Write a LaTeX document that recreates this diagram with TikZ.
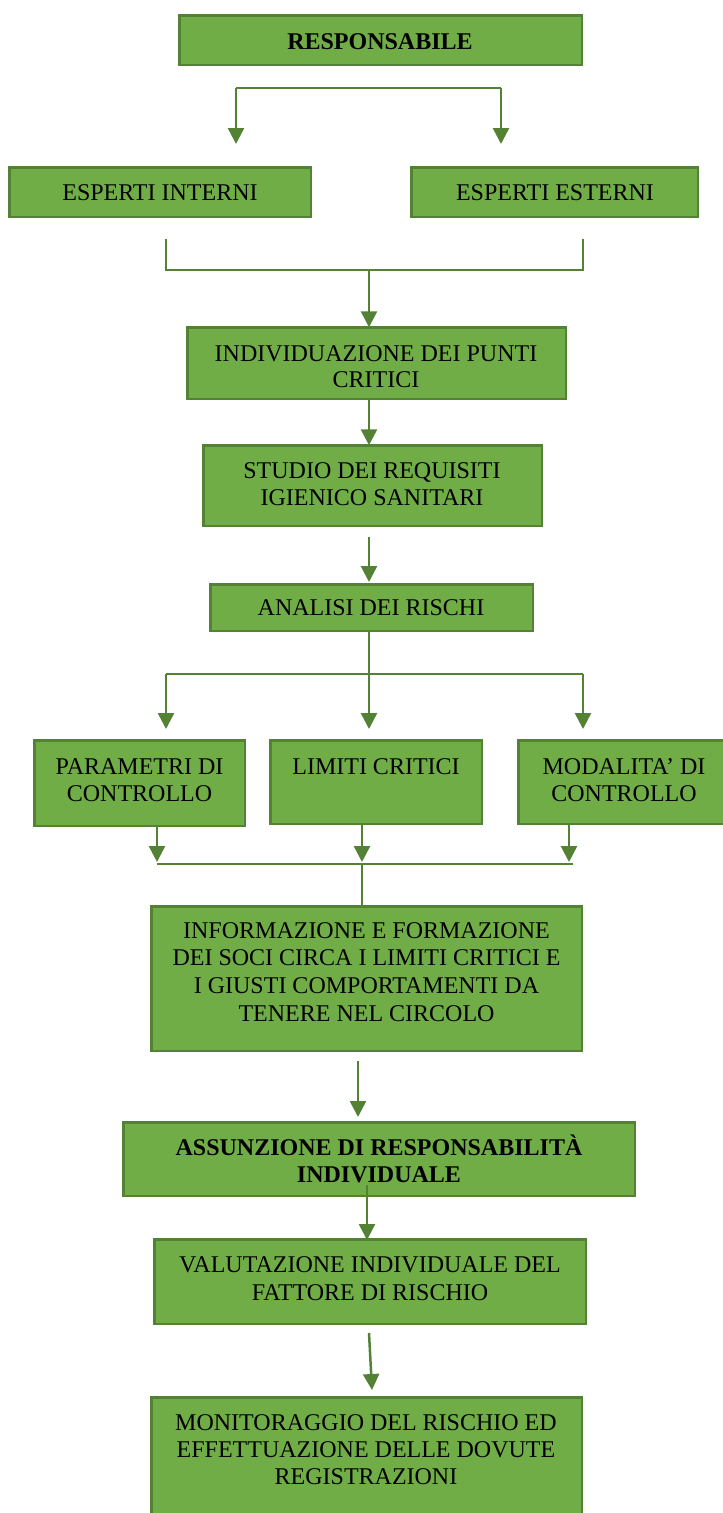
\documentclass[tikz,border=0pt]{standalone}
\usepackage{fontspec}
\setmainfont{Liberation Serif}
\usetikzlibrary{arrows.meta}
\definecolor{boxfill}{RGB}{112,173,71}
\definecolor{boxline}{RGB}{84,130,53}
\tikzset{
  box/.style={rectangle, draw=boxline, fill=boxfill, line width=2.5pt, inner sep=0pt, outer sep=0pt},
  ln/.style={anchor=base, inner sep=0pt, font=\fontsize{24}{27}\selectfont},
  lnb/.style={ln, font=\fontsize{24}{27}\selectfont\bfseries},
  conn/.style={draw=boxline, line width=2.5pt},
  arr/.style={conn, -{Triangle[width=16pt,length=16pt]}}
}
\begin{document}
\begin{tikzpicture}[x=1pt,y=-1pt]
\useasboundingbox (0,0) rectangle (723,1513);
\clip (0,0) rectangle (723,1513);
% boxes
\node[box, minimum width=402.5pt, minimum height=49.5pt] (resp) at (380.5,40) {};
\node[box, minimum width=301.5pt, minimum height=49.5pt] (espi) at (160,192) {};
\node[box, minimum width=286.5pt, minimum height=49.5pt] (espe) at (554.5,192) {};
\node[box, minimum width=378.5pt, minimum height=71.5pt] (indiv) at (376.5,363) {};
\node[box, minimum width=338.5pt, minimum height=80.5pt] (studio) at (372.5,485.5) {};
\node[box, minimum width=322.5pt, minimum height=46.5pt] (analisi) at (371.5,607.5) {};
\node[box, minimum width=210.5pt, minimum height=85.5pt] (param) at (139.5,783) {};
\node[box, minimum width=211.5pt, minimum height=83.5pt] (limiti) at (376,782) {};
\node[box, minimum width=220.5pt, minimum height=83.5pt] (modal) at (628.5,782) {};
\node[box, minimum width=430.5pt, minimum height=144.5pt] (info) at (366.5,978.5) {};
\node[box, minimum width=511.5pt, minimum height=73.5pt] (assun) at (379,1159) {};
\node[box, minimum width=431.5pt, minimum height=84.5pt] (valut) at (370,1281.5) {};
\node[box, minimum width=430.5pt, minimum height=131.5pt] (monit) at (366.5,1463) {};
% texts
\node[lnb] (t1) at (380,49) {RESPONSABILE};
\node[ln] (t2) at (160,200) {ESPERTI INTERNI};
\node[ln] (t3) at (555,200) {ESPERTI ESTERNI};
\node[ln] (t4a) at (376,361) {INDIVIDUAZIONE DEI PUNTI};
\node[ln] (t4b) at (376,387) {CRITICI};
\node[ln] (t5a) at (372,478) {STUDIO DEI REQUISITI};
\node[ln] (t5b) at (372,505) {IGIENICO SANITARI};
\node[ln] (t6) at (371,615) {ANALISI DEI RISCHI};
\node[ln] (t7a) at (139.5,774) {PARAMETRI DI};
\node[ln] (t7b) at (139.5,801) {CONTROLLO};
\node[ln] (t8) at (376,774) {LIMITI CRITICI};
\node[ln] (t9a) at (624,774) {MODALITA’ DI};
\node[ln] (t9b) at (624,801) {CONTROLLO};
\node[ln] (t10a) at (366.5,938) {INFORMAZIONE E FORMAZIONE};
\node[ln] (t10b) at (366.5,965) {DEI SOCI CIRCA I LIMITI CRITICI E};
\node[ln] (t10c) at (366.5,993) {I GIUSTI COMPORTAMENTI DA};
\node[ln] (t10d) at (366.5,1021) {TENERE NEL CIRCOLO};
\node[lnb] (t11a) at (379,1155) {ASSUNZIONE DI RESPONSABILITÀ};
\node[lnb] (t11b) at (379,1182) {INDIVIDUALE};
\node[ln] (t12a) at (370,1272) {VALUTAZIONE INDIVIDUALE DEL};
\node[ln] (t12b) at (370,1300) {FATTORE DI RISCHIO};
\node[ln] (t13a) at (366,1430) {MONITORAGGIO DEL RISCHIO ED};
\node[ln] (t13b) at (366,1457) {EFFETTUAZIONE DELLE DOVUTE};
\node[ln] (t13c) at (366,1484) {REGISTRAZIONI};
% connector points
\coordinate (a1) at (236,88);
\coordinate (a2) at (501,88);
\coordinate (a1e) at (236,144);
\coordinate (a2e) at (501,144);
\coordinate (b1) at (166,239);
\coordinate (b2) at (583,239);
\coordinate (b3) at (369,270);
\coordinate (c1) at (369,537);
\coordinate (c2) at (369,582);
\coordinate (d0) at (369,674);
\coordinate (d1) at (166,674);
\coordinate (d2) at (583,674);
\coordinate (d1e) at (166,729);
\coordinate (d2e) at (583,729);
\coordinate (d0e) at (369,729);
\coordinate (e1) at (157,862);
\coordinate (e2) at (362,862);
\coordinate (e3) at (569,862);
\coordinate (f1) at (157,864);
\coordinate (f2) at (573,864);
\coordinate (f0) at (362,864);
\coordinate (g1) at (358,1061);
\coordinate (g2) at (358,1117);
\coordinate (h1) at (367,1185);
\coordinate (h2) at (367,1240);
\coordinate (k1) at (369,1333);
\coordinate (k2) at (372,1390);
% connectors
\draw[conn] (a1e |- a1) -- (a2);
\draw[arr] (a1) -- (a1e);
\draw[arr] (a2) -- (a2e);
\draw[conn] (b1) |- (b3) -| (b2);
\draw[arr] (b3) -- (indiv.north -| b3);
\draw[arr] (indiv.south -| b3) -- (studio.north -| b3);
\draw[arr] (c1) -- (c2);
\draw[conn] (d1) -- (d2);
\draw[arr] (analisi.south -| d0) -- (d0e);
\draw[arr] (d1) -- (d1e);
\draw[arr] (d2) -- (d2e);
\draw[arr] (param.south -| e1) -- (e1);
\draw[arr] (limiti.south -| e2) -- (e2);
\draw[arr] (modal.south -| e3) -- (e3);
\draw[conn] (f1) -- (f2);
\draw[conn] (f0) -- (info.north -| f0);
\draw[arr] (g1) -- (g2);
\draw[arr] (h1) -- (h2);
\draw[arr] (k1) -- (k2);
\end{tikzpicture}
\end{document}
